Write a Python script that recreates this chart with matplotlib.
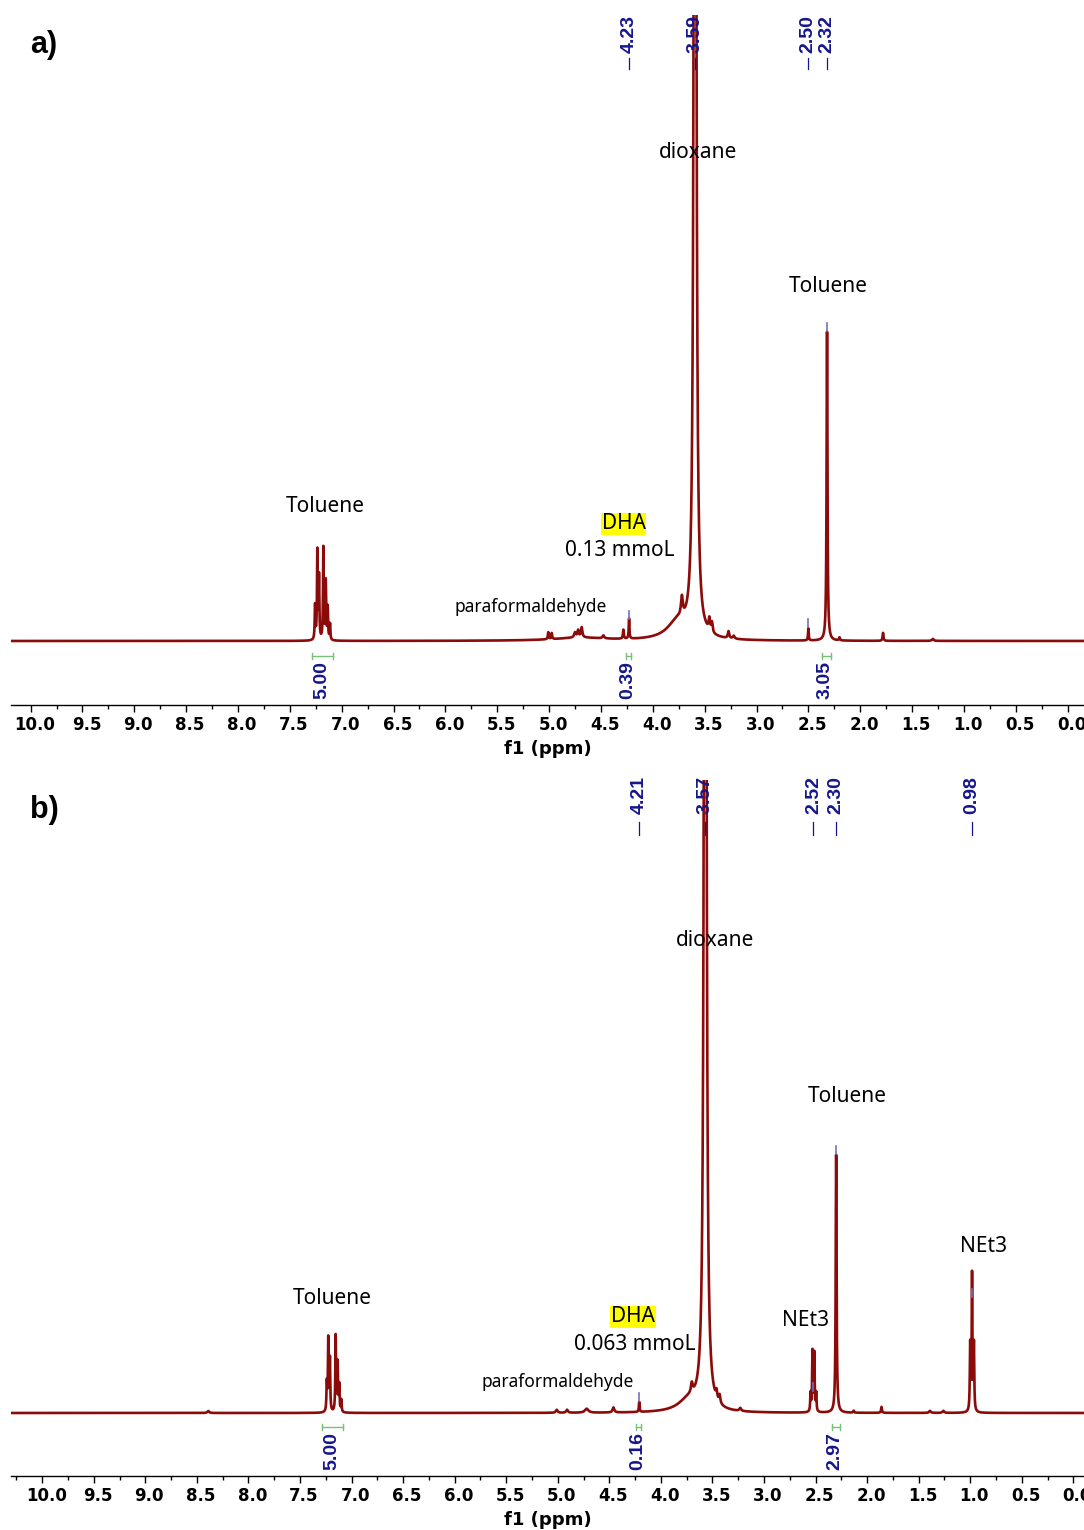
import numpy as np
import matplotlib
matplotlib.use("Agg")
import matplotlib.pyplot as plt
import matplotlib.transforms as mtransforms
from matplotlib.ticker import MultipleLocator, FormatStrFormatter

# ---- peak lists (shift ppm, height, half width ppm) ----
# panel a
shift_a = [7.257, 7.235, 7.219, 7.177, 7.154, 7.135, 7.113,
           5.008, 4.975, 4.750, 4.720, 4.686, 4.477, 4.284, 4.229,
           3.76, 3.72, 3.593, 3.455, 3.430, 3.27, 3.22,
           2.50, 2.32, 2.20, 1.78, 1.30, 4.70]
height_a = [34, 88, 62, 92, 58, 32, 16,
            7, 6, 5, 7, 10, 3, 9, 20,
            18, 19, 2400, 12, 10, 7, 3,
            12, 309, 3, 8, 2, 3]
width_a = [0.004, 0.004, 0.004, 0.004, 0.004, 0.004, 0.004,
           0.005, 0.005, 0.01, 0.008, 0.008, 0.01, 0.005, 0.004,
           0.12, 0.01, 0.0085, 0.008, 0.008, 0.008, 0.01,
           0.004, 0.005, 0.005, 0.005, 0.01, 0.3]

# panel b
shift_b = [7.240, 7.226, 7.210, 7.154, 7.135, 7.120, 7.100,
           8.39, 5.01, 4.91, 4.72, 4.46, 4.21,
           3.73, 3.70, 3.57, 3.46, 3.43, 3.23,
           2.548, 2.530, 2.512, 2.494, 2.30, 2.13, 1.86, 1.39, 1.26,
           1.000, 0.982, 0.964]
height_b = [28, 72, 52, 76, 48, 26, 12,
            2, 3, 3, 4, 5, 10,
            12, 10, 2400, 8, 8, 3,
            18, 60, 58, 18, 258, 2, 6, 2, 2,
            66, 136, 66]
width_b = [0.004, 0.004, 0.004, 0.004, 0.004, 0.004, 0.004,
           0.01, 0.01, 0.01, 0.02, 0.01, 0.004,
           0.12, 0.01, 0.0085, 0.008, 0.008, 0.01,
           0.004, 0.004, 0.004, 0.004, 0.005, 0.005, 0.005, 0.01, 0.01,
           0.004, 0.004, 0.004]

# peak-pick labels and integrals
picks_a = ["4.23", "3.59", "2.50", "2.32"]
picks_b = ["4.21", "3.57", "2.52", "2.30", "0.98"]
integ_a = [(7.29, 7.08, "5.00"), (4.26, 4.21, "0.39"), (2.37, 2.28, "3.05")]
integ_b = [(7.29, 7.08, "5.00"), (4.24, 4.19, "0.16"), (2.34, 2.26, "2.97")]

RED = "#8b0a0a"
NAVY = "#16168c"
PICK = "#7272b8"
GREEN = "#77c077"

W, H = 1084, 1530
ppm = np.linspace(10.6, -0.4, 60000)


def spectrum(shifts, heights, widths):
    y = np.zeros_like(ppm)
    for s, h, g in zip(shifts, heights, widths):
        y += h * g ** 2 / ((ppm - s) ** 2 + g ** 2)
    return y


def panel(top, bottom, xlim, ylim, shifts, heights, widths, picks, pick_txt_h,
          pick_tick, integ, br_h, labels, letter):
    ax = fig.add_axes([11 / W, 1 - bottom / H, 1073 / W, (bottom - top) / H])
    y = spectrum(shifts, heights, widths)
    ax.plot(ppm, y, color=RED, lw=1.9)
    ax.set_xlim(*xlim)
    ax.set_ylim(*ylim)
    for s in ["left", "right", "top"]:
        ax.spines[s].set_visible(False)
    ax.spines["bottom"].set_linewidth(1.0)
    ax.set_yticks([])
    ax.xaxis.set_major_locator(MultipleLocator(0.5))
    ax.xaxis.set_minor_locator(MultipleLocator(0.25))
    ax.xaxis.set_major_formatter(FormatStrFormatter("%.1f"))
    ax.tick_params(axis="x", which="major", length=5, width=1, pad=3,
                   labelsize=12)
    ax.tick_params(axis="x", which="minor", length=3, width=1)
    ax.set_xlabel("f1 (ppm)", fontsize=13, fontweight="bold",
                  family="DejaVu Sans", labelpad=4)

    # peak picking labels
    for p in picks:
        v = float(p)
        ax.text(v, pick_txt_h, p, rotation=90, ha="center", va="bottom",
                color=NAVY, fontsize=14, fontweight="bold",
                family="Liberation Sans", zorder=5)
        ax.plot([v, v], pick_tick, color=NAVY, lw=0.9)
        top_val = np.interp(-v, -ppm, y)
        if top_val < ylim[1] - 20:
            ax.plot([v, v], [top_val + 1, top_val + 9], color=PICK, lw=1.2)

    # integrals
    for x1, x2, lab in integ:
        ax.plot([x1, x2], [br_h, br_h], color=GREEN, lw=1)
        for xe in (x1, x2):
            ax.plot([xe, xe], [br_h - 3, br_h + 3], color=GREEN, lw=1)
        ax.text((x1 + x2) / 2 + 0.01, br_h - 5, lab, rotation=90, ha="center",
                va="top", color=NAVY, fontsize=14, fontweight="bold",
                family="Liberation Sans")

    for x, yy, txt, size, hl in labels:
        kw = {}
        if hl:
            kw["bbox"] = dict(facecolor="#ffff00", edgecolor="none", pad=0.5)
        ax.text(x, yy, txt, ha="center", va="center", fontsize=size,
                family="Noto Sans", color="black", **kw)

    fig.text(44 / W, 1 - (top + 30) / H, letter, ha="center", va="center",
             fontsize=22, fontweight="bold", family="Liberation Sans")
    return ax


fig = plt.figure(figsize=(W / 100, H / 100), dpi=100)

labels_a = [(7.16, 135, "Toluene", 15, False),
            (2.31, 355, "Toluene", 15, False),
            (3.56, 488, "dioxane", 15, False),
            (4.28, 117, "DHA", 15, True),
            (4.32, 90, "0.13 mmoL", 15, False),
            (5.18, 34, "paraformaldehyde", 12.5, False)]
ax_a = panel(15, 705, (10.189, -0.158), (-64, 626), shift_a, height_a, width_a,
             picks_a, 588, [583, 572], integ_a, -15, labels_a, "a)")

labels_b = [(7.19, 115, "Toluene", 15, False),
            (2.19, 317, "Toluene", 15, False),
            (3.47, 473, "dioxane", 15, False),
            (2.60, 93, "NEt3", 15, False),
            (0.87, 166, "NEt3", 15, False),
            (4.27, 96, "DHA", 15, True),
            (4.25, 68, "0.063 mmoL", 15, False),
            (5.00, 31, "paraformaldehyde", 12.5, False)]
ax_b = panel(780, 1476, (10.303, -0.104), (-63, 633), shift_b, height_b, width_b,
             picks_b, 599, [591, 578], integ_b, -14, labels_b, "b)")

# tick labels sit a few pixels right of their ticks in the original
fig.canvas.draw()
shift = mtransforms.ScaledTranslation(4 / 100, 0, fig.dpi_scale_trans)
for ax in (ax_a, ax_b):
    for t in ax.get_xticklabels():
        t.set_fontweight("bold")
        t.set_family("DejaVu Sans")
        t.set_transform(t.get_transform() + shift)

fig.savefig("out.png", dpi=100)
